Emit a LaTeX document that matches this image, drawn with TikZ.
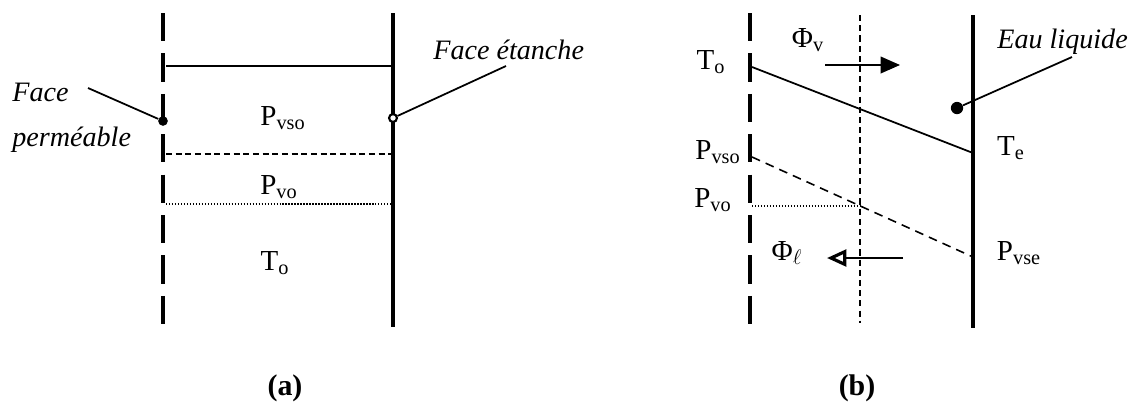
\documentclass[tikz,border=0pt]{standalone}
\usepackage{fontspec}
\setmainfont{Liberation Serif}
\usetikzlibrary{arrows.meta}
\tikzset{
  wall/.style={line width=1.8pt},
  permwall/.style={line width=1.8pt, dash pattern=on 16pt off 7pt},
  midwall/.style={line width=1pt, dash pattern=on 3.5pt off 2.3pt},
  hsolid/.style={line width=0.7pt},
  hdash/.style={line width=0.8pt, dash pattern=on 3.5pt off 2pt},
  hdot/.style={line width=0.7pt, dash pattern=on 0.8pt off 0.9pt},
  slant/.style={line width=1pt},
  slantdash/.style={line width=0.9pt, dash pattern=on 5pt off 3.5pt},
  leader/.style={line width=1pt},
  lab/.style={inner sep=0pt, font=\fontsize{16.5}{19}\selectfont},
  itlab/.style={inner sep=0pt, font=\fontsize{16}{19}\selectfont\itshape},
  caplab/.style={inner sep=0pt, font=\fontsize{17}{20}\selectfont\bfseries},
  bigdot/.style={circle, fill=black, inner sep=0pt, minimum size=5.5pt},
  smalldot/.style={circle, draw=black, fill=white, line width=1.2pt, inner sep=0pt, minimum size=4.5pt},
  fluxarrow/.style={line width=0.8pt},
}
\begin{document}
\begin{tikzpicture}[x=0.02cm, y=-0.02cm]
\useasboundingbox (0,0) rectangle (1138,407);

% ---------- panel (a) ----------
\coordinate (aLt) at (163,13);  \coordinate (aLb) at (163,327);
\coordinate (aRt) at (393,13);  \coordinate (aRb) at (393,327);
\draw[permwall] (aLt) -- (aLb);
\draw[wall] (aRt) -- (aRb);

\coordinate (a1l) at (166,66);  \coordinate (a1r) at (392,66);
\coordinate (a2l) at (166,154); \coordinate (a2r) at (392,154);
\coordinate (a3l) at (166,204); \coordinate (a3r) at (392,204);
\draw[hsolid] (a1l) -- (a1r);
\draw[hdash] (a2l) -- (a2r);
\draw[hdot] (a3l) -- (a3r);

\node[lab] (aPvso) at (283,118) {P\textsubscript{vso}};
\node[lab] (aPvo)  at (279,187) {P\textsubscript{vo}};
\node[lab] (aTo)   at (275,263) {T\textsubscript{o}};

\node[bigdot] (aDotL) at (163,121) {};
\node[smalldot] (aDotR) at (393,118) {};

\node[itlab, anchor=west] (faceA) at (12,92) {Face};
\node[itlab, anchor=west] (permA) at (12,140) {perméable};
\coordinate (faceAl) at (88,88);
\draw[leader] (faceAl) -- (aDotL);

\node[itlab, anchor=west] (etanche) at (433,50) {Face étanche};
\coordinate (etancheL) at (506,66);
\draw[leader] (etancheL) -- (aDotR);

\node[caplab] (capA) at (285,388) {(a)};

% ---------- panel (b) ----------
\coordinate (bLt) at (750,13);  \coordinate (bLb) at (750,328);
\coordinate (bMt) at (860,15);  \coordinate (bMb) at (860,323);
\coordinate (bRt) at (973,15);  \coordinate (bRb) at (973,328);
\draw[permwall] (bLt) -- (bLb);
\draw[midwall] (bMt) -- (bMb);
\draw[wall] (bRt) -- (bRb);

\coordinate (bT0) at (752,67);   \coordinate (bTe) at (973,153);
\coordinate (bP0) at (752,157);  \coordinate (bPe) at (973,257);
\coordinate (bV0) at (752,206);  \coordinate (bV1) at (860,206);
\draw[slant] (bT0) -- (bTe);
\draw[slantdash] (bP0) -- (bPe);
\draw[hdot] (bV0) -- (bV1);

\node[lab] (bTo)   at (711,62)  {T\textsubscript{o}};
\node[lab] (bPvso) at (718,152) {P\textsubscript{vso}};
\node[lab] (bPvo)  at (713,200) {P\textsubscript{vo}};
\node[lab] (bTe)   at (1011,148) {T\textsubscript{e}};
\node[lab] (bPvse) at (1019,253) {P\textsubscript{vse}};

\node[lab] (phiv) at (808,40) {Φ\textsubscript{v}};
\coordinate (phivS) at (825,65); \coordinate (phivE) at (900,65);
\draw[fluxarrow, -{Triangle[length=11pt, width=9.5pt]}] (phivS) -- (phivE);

\node[lab] (phil) at (787,253) {Φ\textsubscript{$\ell$}};
\coordinate (philS) at (903,258); \coordinate (philE) at (827,258);
\draw[fluxarrow, -{Triangle[open, length=11pt, width=9.5pt, line width=1.8pt]}] (philS) -- (philE);

\node[itlab, anchor=west] (eau) at (997,42) {Eau liquide};
\node[bigdot, minimum size=7pt] (eauDot) at (957,108) {};
\coordinate (eauL) at (1072,57);
\draw[leader] (eauL) -- (eauDot);

\node[caplab] (capB) at (857,388) {(b)};
\end{tikzpicture}
\end{document}
